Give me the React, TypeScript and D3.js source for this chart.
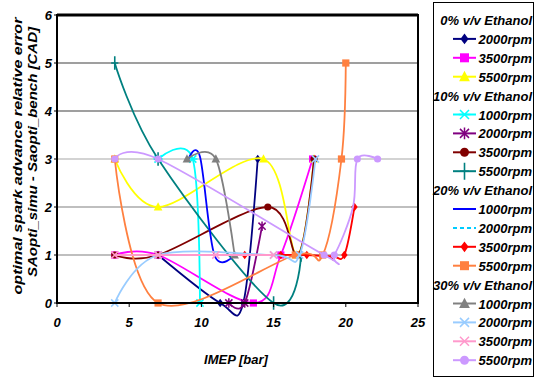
import React from "react";
import * as d3 from "d3";

// ---- data (IMEP [bar], error [CAD]) ----
const xTicks = [0, 5, 10, 15, 20, 25];
const yTicks = [0, 1, 2, 3, 4, 5, 6];

const e0_2000: [number, number][] = [[7, 1], [11.3, 0], [12.9, 0], [13.9, 3]];
const e0_3500: [number, number][] = [[4, 1], [7, 1], [13.6, 0], [15.5, 1], [17.7, 3]];
const e0_5500: [number, number][] = [[4, 3], [7, 2], [14.3, 3], [16.6, 1], [17.8, 3]];
const e10_1000: [number, number][] = [[7, 3], [9.4, 3], [9.9, 0]];
const e10_2000: [number, number][] = [[11.9, 0], [13, 0], [14.2, 1.6]];
const e10_3500: [number, number][] = [[4, 1], [7, 1], [14.6, 2], [16.7, 1], [17.8, 3]];
const e10_5500: [number, number][] = [[4, 5], [7, 3], [15, 0], [16.9, 1]];
const e20_1000: [number, number][] = [[9.1, 3], [9.9, 3.05], [10.9, 1], [12.3, 1]];
const e20_2000: [number, number][] = [[4, 0], [7, 0], [10, 0], [12, 0], [14, 0], [16, 0]];
const e20_3500: [number, number][] = [[13, 1], [15.5, 1], [17.3, 1], [19.1, 0.97], [19.9, 1], [20.6, 2]];
const e20_5500: [number, number][] = [[4, 3], [7, 0], [16.5, 1], [18.4, 1], [19.7, 3], [20, 5]];
const e30_1000: [number, number][] = [[9, 3], [11, 3], [12.3, 1]];
const e30_2000: [number, number][] = [[4, 0], [7, 1], [15, 1], [16.8, 1], [17.9, 3]];
const e30_3500: [number, number][] = [[4, 1], [7, 1], [11, 1], [15, 1]];
const e30_5500: [number, number][] = [[4, 3], [7, 3], [18.5, 1], [19.2, 1], [20.5, 2], [20.8, 3], [22.2, 3]];

const groupLabels = ["0% v/v Ethanol", "10% v/v Ethanol", "20% v/v Ethanol", "30% v/v Ethanol"];

type Marker = "diamond" | "square" | "triangle" | "circle" | "xstar" | "star" | "plus" | "x" | "none";
interface Series { group: number; label: string; color: string; marker: Marker; dash?: string; data: [number, number][]; skip?: number[]; }

const series: Series[] = [
  { group: 0, label: "2000rpm", color: "#000080", marker: "diamond", data: e0_2000 },
  { group: 0, label: "3500rpm", color: "#ff00ff", marker: "square", data: e0_3500 },
  { group: 0, label: "5500rpm", color: "#ffff00", marker: "triangle", data: e0_5500 },
  { group: 1, label: "1000rpm", color: "#00ffff", marker: "xstar", data: e10_1000 },
  { group: 1, label: "2000rpm", color: "#800080", marker: "star", data: e10_2000 },
  { group: 1, label: "3500rpm", color: "#800000", marker: "circle", data: e10_3500 },
  { group: 1, label: "5500rpm", color: "#008080", marker: "plus", data: e10_5500 },
  { group: 2, label: "1000rpm", color: "#0000ff", marker: "none", data: e20_1000 },
  { group: 2, label: "2000rpm", color: "#00ccff", marker: "none", dash: "4,3", data: e20_2000 },
  { group: 2, label: "3500rpm", color: "#ff0000", marker: "diamond", data: e20_3500 },
  { group: 2, label: "5500rpm", color: "#ff8040", marker: "square", data: e20_5500 },
  { group: 3, label: "1000rpm", color: "#808080", marker: "triangle", data: e30_1000 },
  { group: 3, label: "2000rpm", color: "#99ccff", marker: "x", data: e30_2000 },
  { group: 3, label: "3500rpm", color: "#ff99cc", marker: "x", data: e30_3500 },
  { group: 3, label: "5500rpm", color: "#cc99ff", marker: "circle", data: e30_5500, skip: [4] },
];

const FONT = "'Liberation Sans', Arial, sans-serif";

function MarkerShape({ m, x, y, c, s = 1 }: { m: Marker; x: number; y: number; c: string; s?: number }) {
  const r = 3.6 * s;
  switch (m) {
    case "diamond":
      return <path d={`M${x},${y - r * 1.2}L${x + r * 0.9},${y}L${x},${y + r * 1.2}L${x - r * 0.9},${y}Z`} fill={c} />;
    case "square":
      return <rect x={x - r} y={y - r} width={2 * r} height={2 * r} fill={c} />;
    case "triangle":
      return <path d={`M${x},${y - r * 1.3}L${x + r * 1.2},${y + r}L${x - r * 1.2},${y + r}Z`} fill={c} />;
    case "circle":
      return <circle cx={x} cy={y} r={r} fill={c} />;
    case "xstar":
      return <path d={`M${x - r},${y - r}L${x + r},${y + r}M${x - r},${y + r}L${x + r},${y - r}M${x - r * 1.3},${y}L${x + r * 1.3},${y}`} stroke={c} strokeWidth={1.5} />;
    case "star":
      return <path d={`M${x - r},${y - r}L${x + r},${y + r}M${x - r},${y + r}L${x + r},${y - r}M${x},${y - r * 1.3}L${x},${y + r * 1.3}`} stroke={c} strokeWidth={1.5} />;
    case "plus":
      return <path d={`M${x},${y - r * 1.9}L${x},${y + r * 1.9}M${x - r},${y}L${x + r},${y}`} stroke={c} strokeWidth={1.6} />;
    case "x":
      return <path d={`M${x - r},${y - r}L${x + r},${y + r}M${x - r},${y + r}L${x + r},${y - r}`} stroke={c} strokeWidth={1.5} />;
    default:
      return null;
  }
}

export default function App() {
  const W = 536, H = 378;
  const X = d3.scaleLinear().domain([0, 25]).range([57, 418]);
  const Y = d3.scaleLinear().domain([0, 6]).range([303, 15]);
  const line = d3.line<[number, number]>().x(d => X(d[0])).y(d => Y(d[1])).curve(d3.curveCardinal.tension(0));
  const gridColor = (v: number) => (v === 3 ? "#a8a8a8" : v >= 4 ? "#404040" : "#808080");

  const rows: { kind: "h" | "s"; text: string; s?: Series }[] = [];
  groupLabels.forEach((g, gi) => {
    rows.push({ kind: "h", text: g });
    series.filter(s => s.group === gi).forEach(s => rows.push({ kind: "s", text: s.label, s }));
  });
  const rowY = (i: number) => 20 + 18.9 * i;

  return (
    <svg width={W} height={H} style={{ position: "absolute", left: 0, top: 0, background: "#fff" }}>
      {yTicks.filter(v => v > 0 && v < 6).map(v => (
        <line key={v} x1={X(0)} x2={X(25)} y1={Y(v)} y2={Y(v)} stroke={gridColor(v)} strokeWidth={1.2} />
      ))}
      {series.map((s, i) => (
        <g key={i}>
          <path d={line(s.data) || ""} fill="none" stroke={s.color} strokeWidth={1.8} strokeDasharray={s.dash} />
          {s.data.map((d, j) => (s.skip && s.skip.includes(j) ? null :
            <MarkerShape key={j} m={s.marker} x={X(d[0])} y={Y(d[1])} c={s.color} />
          ))}
        </g>
      ))}
      <rect x={X(0)} y={Y(6)} width={X(25) - X(0)} height={Y(0) - Y(6)} fill="none" stroke="#000" strokeWidth={2} />
      <line x1={X(0)} x2={X(25)} y1={Y(6)} y2={Y(6)} stroke="#000" strokeWidth={3} />
      {xTicks.map(v => (
        <g key={v}>
          <line x1={X(v)} x2={X(v)} y1={Y(0)} y2={Y(0) + 4} stroke="#000" strokeWidth={1} />
          <text x={X(v)} y={Y(0) + 24} textAnchor="middle" fontFamily={FONT} fontWeight="bold" fontStyle="italic" fontSize={13}>{v}</text>
        </g>
      ))}
      {yTicks.map(v => (
        <g key={v}>
          <line x1={X(0) - 3} x2={X(0)} y1={Y(v)} y2={Y(v)} stroke="#000" strokeWidth={1} />
          <text x={X(0) - 5} y={Y(v) + 4.5} textAnchor="end" fontFamily={FONT} fontWeight="bold" fontStyle="italic" fontSize={13}>{v}</text>
        </g>
      ))}
      <text x={236} y={364} textAnchor="middle" fontFamily={FONT} fontWeight="bold" fontStyle="italic" fontSize={13}>IMEP [bar]</text>
      <text transform={`translate(22,156) rotate(-90)`} textAnchor="middle" fontFamily={FONT} fontWeight="bold" fontStyle="italic" fontSize={13.5}
        textLength={277} lengthAdjust="spacingAndGlyphs">optimal spark advance relative error</text>
      <text transform={`translate(36.5,152) rotate(-90)`} textAnchor="middle" fontFamily={FONT} fontWeight="bold" fontStyle="italic" fontSize={13.5}
        textLength={250} lengthAdjust="spacingAndGlyphs">SAopti_simu - Saopti_bench [CAD]</text>
      <rect x={433.5} y={2.5} width={100} height={374} fill="#fff" stroke="#000" strokeWidth={1} />
      {rows.map((r, i) => (
        <g key={i}>
          {r.kind === "s" && r.s && (
            <>
              <line x1={453} x2={476} y1={rowY(i)} y2={rowY(i)} stroke={r.s.color} strokeWidth={2} strokeDasharray={r.s.dash} />
              <MarkerShape m={r.s.marker} x={464.5} y={rowY(i)} c={r.s.color} s={1.25} />
            </>
          )}
          <text x={532} y={rowY(i) + 5} textAnchor="end" fontFamily={FONT} fontWeight="bold" fontStyle="italic" fontSize={13}>{r.text}</text>
        </g>
      ))}
    </svg>
  );
}
